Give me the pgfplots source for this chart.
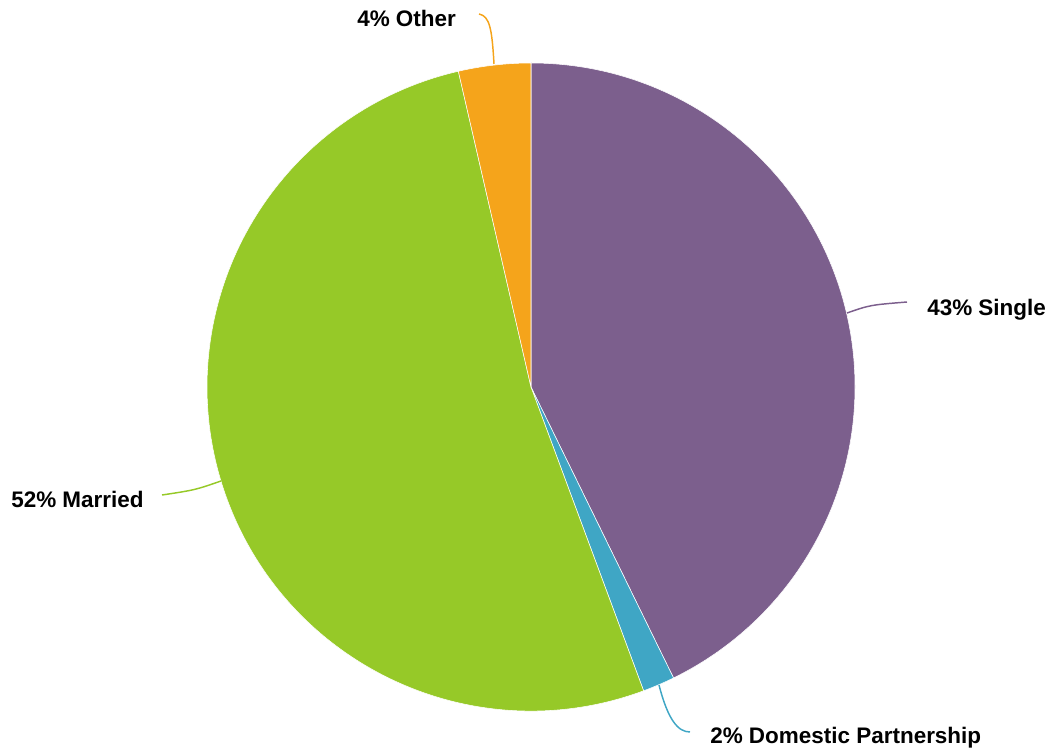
\documentclass[border=0pt]{standalone}
\usepackage{fontspec}
\setmainfont{Liberation Sans}
\usepackage{pgfplots}
\usepackage{pgfplotstable}
\pgfplotsset{compat=1.18}
\definecolor{cSingle}{HTML}{7C5F8D}
\definecolor{cDom}{HTML}{3FA6C5}
\definecolor{cMarried}{HTML}{96C928}
\definecolor{cOther}{HTML}{F5A41B}
\pgfplotstableread{
label value color
Single 42.75 cSingle
Domestic 1.6 cDom
Married 52.05 cMarried
Other 3.6 cOther
}\piedata
\tikzset{lbl/.style={anchor=base west, inner sep=0pt, text=black, font=\fontsize{16.85}{19}\selectfont\bfseries}}
\begin{document}
\begin{tikzpicture}
\begin{axis}[
  x=0.75pt, y=0.75pt,
  xmin=0, xmax=1052, ymin=0, ymax=754,
  hide axis, clip=false,
]
\path (axis cs:0,0) rectangle (axis cs:1052,754);
\pgfplotstablegetrowsof{\piedata}
\pgfmathtruncatemacro\N{\pgfplotsretval-1}
\def\startang{90}
\pgfplotsforeachungrouped \i in {0,...,\N}{
  \pgfplotstablegetelem{\i}{value}\of\piedata \let\v\pgfplotsretval
  \pgfplotstablegetelem{\i}{color}\of\piedata \let\c\pgfplotsretval
  \pgfmathsetmacro\endang{\startang - \v*3.6}
  \edef\temp{\noexpand\fill[\c, draw=white, line width=0.4pt] (axis cs:531,367) -- ++(\startang:243pt) arc[start angle=\startang, end angle=\endang, radius=243pt] -- cycle;}
  \temp
  \global\let\startang\endang
}
% leader lines
\draw[cSingle, line width=1.1pt] (axis cs:847,441) .. controls (axis cs:870,449) .. (axis cs:907,452);
\draw[cMarried, line width=1.1pt] (axis cs:221,273) .. controls (axis cs:195,264) .. (axis cs:162,259);
\draw[cOther, line width=1.1pt] (axis cs:494,690) .. controls (axis cs:492,724) and (axis cs:490,738) .. (axis cs:479,740);
\draw[cDom, line width=1.1pt] (axis cs:659,69) .. controls (axis cs:668,34) and (axis cs:678,22) .. (axis cs:690,22);
% labels
\node[lbl] at (axis cs:927,438) {43\% Single};
\node[lbl] at (axis cs:11,247) {52\% Married};
\node[lbl] at (axis cs:357,727) {4\% Other};
\node[lbl] at (axis cs:710,11) {2\% Domestic Partnership};
\end{axis}
\end{tikzpicture}
\end{document}
